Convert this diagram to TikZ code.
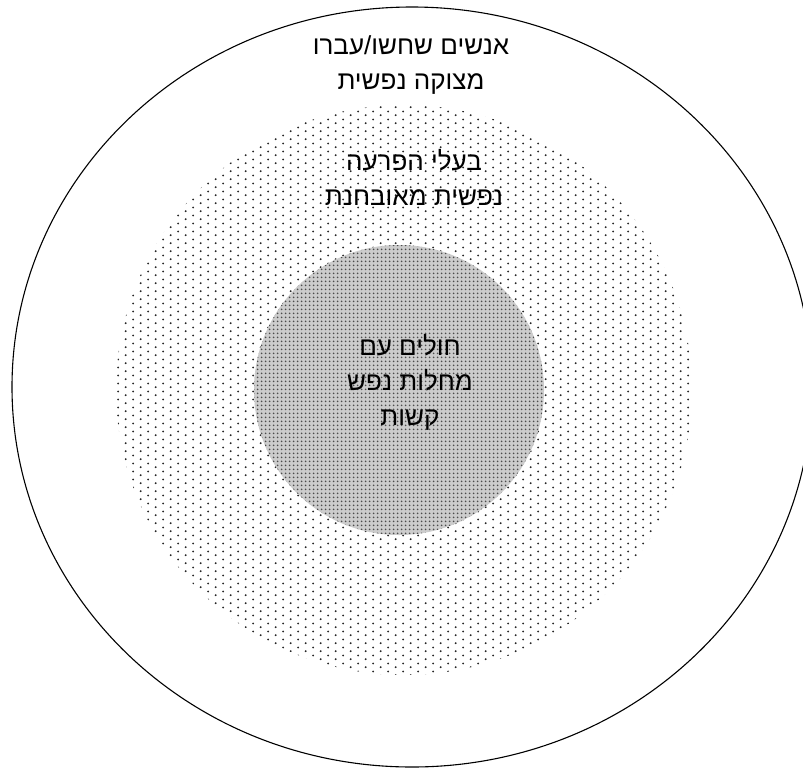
\documentclass[tikz,border=0pt]{standalone}
\usepackage{fontspec}
\newfontfamily\hebfont[Script=Hebrew]{Liberation Sans}
\TeXXeTstate=1
\usetikzlibrary{patterns}
\pgfdeclarepatternformonly{middots}{\pgfpointorigin}{\pgfqpoint{15.4pt}{7.7pt}}{\pgfqpoint{15.4pt}{7.7pt}}{%
  \pgfpathcircle{\pgfqpoint{3.85pt}{1.9pt}}{1.1pt}%
  \pgfpathcircle{\pgfqpoint{11.55pt}{5.75pt}}{1.1pt}%
  \pgfusepath{fill}}
\pgfdeclarepatternformonly{innerdots}{\pgfpointorigin}{\pgfqpoint{3.6pt}{3.6pt}}{\pgfqpoint{3.6pt}{3.6pt}}{%
  \pgfpathcircle{\pgfqpoint{1.8pt}{1.8pt}}{1.0pt}%
  \pgfusepath{fill}}
\begin{document}
\begin{tikzpicture}[x=1pt,y=-1pt,
  lbl/.style={font=\hebfont\fontsize{26}{35}\selectfont, align=center, inner sep=0pt}]
\useasboundingbox (0,0) rectangle (803,769);
\clip (0,0) rectangle (803,769);
\fill[white] (0,0) rectangle (803,769);
\fill[pattern=middots, pattern color=black!85] (404,390) ellipse [x radius=288, y radius=285];
\fill[gray!40] (399,390) circle [radius=145];
\fill[pattern=innerdots, pattern color=black!70] (399,390) circle [radius=145];
\draw[line width=1.1pt] (412,387) ellipse [x radius=400, y radius=380];
\node[lbl] (outerlbl) at (411,65) {\beginR אנשים שחשו/עברו\endR\\\beginR מצוקה נפשית\endR};
\node[lbl] (midlbl) at (414,177) {\beginR בעלי הפרעה\endR\\\beginR נפשית מאובחנת\endR};
\node[lbl] (innerlbl) at (410,382) {\beginR חולים עם\endR\\\beginR מחלות נפש\endR\\\beginR קשות\endR};
\end{tikzpicture}
\end{document}
